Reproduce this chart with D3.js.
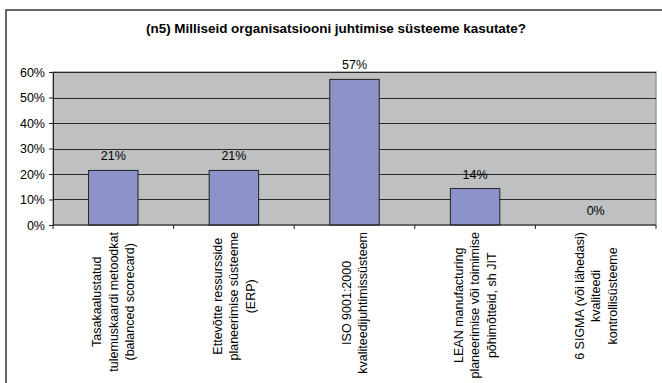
<!DOCTYPE html>
<html>
<head>
<meta charset="utf-8">
<script src="https://cdn.jsdelivr.net/npm/d3@7"></script>
<style>
  html, body { margin: 0; padding: 0; background: #fff; }
  svg { display: block; font-family: "Liberation Sans", Arial, sans-serif; }
</style>
</head>
<body>
<svg id="chart" width="662" height="383"></svg>
<script>
const title = "(n5) Milliseid organisatsiooni juhtimise süsteeme kasutate?";
const categories = [
  ["Tasakaalustatud", "tulemuskaardi metoodkat", "(balanced scorecard)"],
  ["Ettevõtte ressursside", "planeerimise süsteeme", "(ERP)"],
  ["ISO 9001:2000", "kvaliteedijuhtimissüsteem"],
  ["LEAN manufacturing", "planeerimise või toimimise", "põhimõtteid, sh JIT"],
  ["6 SIGMA (või lähedasi)", "kvaliteedi", "kontrollisüsteeme"]
];
const values = [0.214, 0.214, 0.571, 0.143, 0];
const valueLabels = ["21%", "21%", "57%", "14%", "0%"];
const yTicks = [0, 0.1, 0.2, 0.3, 0.4, 0.5, 0.6];

const svg = d3.select("#chart");
const plot = { left: 53, right: 656, top: 72, bottom: 225 };
const fs = 12.5;

// outer chart border
svg.append("rect").attr("x", 6).attr("y", 10).attr("width", 700).attr("height", 400)
  .attr("fill", "#fff").attr("stroke", "#333").attr("stroke-width", 1.5);

const t = svg.append("text").attr("x", 336).attr("y", 33).attr("text-anchor", "middle")
  .attr("font-size", 12.5).attr("font-weight", "bold").attr("fill", "#000").text(title);
t.attr("textLength", 380).attr("lengthAdjust", "spacingAndGlyphs");

const x = d3.scaleBand().domain(d3.range(categories.length))
  .range([plot.left, plot.right]).paddingInner(0).paddingOuter(0);
const y = d3.scaleLinear().domain([0, 0.6]).range([plot.bottom, plot.top]);

// plot area
svg.append("rect").attr("x", plot.left).attr("y", plot.top)
  .attr("width", plot.right - plot.left).attr("height", plot.bottom - plot.top)
  .attr("fill", "#bec0c2").attr("stroke", "#7f8a8a").attr("stroke-width", 1.2);

// gridlines
svg.append("g").selectAll("line").data(yTicks.slice(1)).join("line")
  .attr("x1", plot.left).attr("x2", plot.right)
  .attr("y1", d => Math.round(y(d)) + 0.5).attr("y2", d => Math.round(y(d)) + 0.5)
  .attr("stroke", "#2a2a2a").attr("stroke-width", 1);

// bars
const bw = x.bandwidth() * 0.41;
svg.append("g").selectAll("rect").data(values).join("rect")
  .attr("x", (d, i) => x(i) + x.bandwidth() / 2 - bw / 2)
  .attr("y", d => y(d))
  .attr("width", bw)
  .attr("height", d => y(0) - y(d))
  .attr("fill", "#8d93c8").attr("stroke", "#222").attr("stroke-width", 1);

// value labels
svg.append("g").selectAll("text").data(values).join("text")
  .attr("x", (d, i) => x(i) + x.bandwidth() / 2)
  .attr("y", d => y(d) - 10)
  .attr("text-anchor", "middle").attr("font-size", fs).attr("fill", "#000")
  .text((d, i) => valueLabels[i]);

// y axis
const yAxis = d3.axisLeft(y).tickValues(yTicks).tickFormat(d3.format(".0%")).tickSize(4).tickPadding(4);
const gy = svg.append("g").attr("transform", `translate(${plot.left},0)`).call(yAxis);
gy.select(".domain").attr("stroke", "#222");
gy.selectAll(".tick line").attr("stroke", "#222");
gy.selectAll(".tick text").attr("font-size", fs).attr("fill", "#000")
  .attr("font-family", "Liberation Sans, Arial, sans-serif");

// x axis
const boundaries = d3.range(categories.length + 1).map(i => plot.left + i * x.bandwidth());
const gx = svg.append("g");
gx.append("line").attr("x1", plot.left).attr("x2", plot.right)
  .attr("y1", plot.bottom).attr("y2", plot.bottom).attr("stroke", "#222");
gx.selectAll("line.tk").data(boundaries).join("line").attr("class", "tk")
  .attr("x1", d => d).attr("x2", d => d)
  .attr("y1", plot.bottom).attr("y2", plot.bottom + 4).attr("stroke", "#222");

// category labels (rotated, multi-line)
const lh = 16.5;
categories.forEach((lines, i) => {
  const g = svg.append("g");
  const texts = g.selectAll("text").data(lines).join("text")
    .attr("font-size", fs).attr("fill", "#000").attr("text-anchor", "middle")
    .attr("x", 0)
    .attr("y", (d, j) => (j - (lines.length - 1) / 2) * lh)
    .attr("dy", "0.35em")
    .text(d => d);
  let maxLen = 0;
  texts.each(function () { maxLen = Math.max(maxLen, this.getComputedTextLength()); });
  const cx = x(i) + x.bandwidth() / 2;
  g.attr("transform", `translate(${cx},${232 + maxLen / 2}) rotate(-90)`);
});
</script>
</body>
</html>
